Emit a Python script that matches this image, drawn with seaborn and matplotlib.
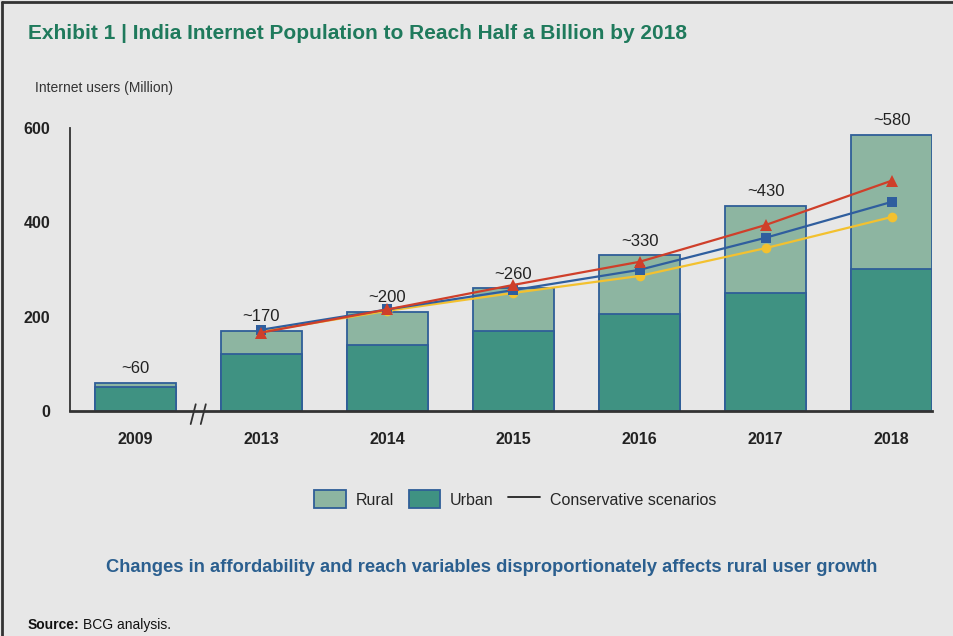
import numpy as np
import pandas as pd
import matplotlib.pyplot as plt
import seaborn as sns
from matplotlib.patches import Patch, Rectangle
from matplotlib.lines import Line2D

# Data read from the exhibit
years = ['2009', '2013', '2014', '2015', '2016', '2017', '2018']
urban = [50, 120, 140, 170, 205, 250, 300]
rural = [10, 50, 70, 90, 125, 185, 285]
bar_labels = ['~60', '~170', '~200', '~260', '~330', '~430', '~580']

scenario_years = ['2013', '2014', '2015', '2016', '2017', '2018']
scenario_high = [166, 215, 267, 316, 394, 488]
scenario_mid = [172, 215, 256, 299, 367, 443]
scenario_low = [168, 212, 250, 286, 345, 411]

bg = '#e7e7e7'
urban_col = '#3f9282'
rural_col = '#8db5a1'
edge_col = '#2f5e98'

sns.set_theme(style='white')
plt.rcParams['font.family'] = ['Liberation Sans', 'DejaVu Sans']

df = pd.DataFrame({'year': years, 'urban': urban, 'rural': rural})
df['total'] = df['urban'] + df['rural']

fig = plt.figure(figsize=(9.54, 6.36), dpi=100, facecolor=bg)
ax = fig.add_axes([0.073, 0.354, 0.904, 0.445], facecolor=bg)

sns.barplot(data=df, x='year', y='total', color=rural_col, saturation=1,
            width=0.64, edgecolor=edge_col, linewidth=1.3, ax=ax)
sns.barplot(data=df, x='year', y='urban', color=urban_col, saturation=1,
            width=0.64, edgecolor=edge_col, linewidth=1.3, ax=ax)

# scenario lines
pos = [years.index(y) for y in scenario_years]
sc = pd.DataFrame({'pos': pos, 'high': scenario_high, 'mid': scenario_mid, 'low': scenario_low})
sns.lineplot(data=sc, x='pos', y='low', color='#f3c12f', marker='o', markersize=7,
             markeredgewidth=0, linewidth=1.6, ax=ax)
sns.lineplot(data=sc, x='pos', y='mid', color='#2f5e9e', marker='s', markersize=7,
             markeredgewidth=0, linewidth=1.6, ax=ax)
sns.lineplot(data=sc, x='pos', y='high', color='#cf3f2a', marker='^', markersize=9,
             markeredgewidth=0, linewidth=1.6, ax=ax)

for i, lab in enumerate(bar_labels):
    ax.text(i, df['total'][i] + 14, lab, ha='center', va='bottom', fontsize=12,
            color='#222222', clip_on=False)

ax.set_xlim(-0.52, 6.32)
ax.set_ylim(0, 600)
ax.set_yticks([0, 200, 400, 600])
ax.set_xlabel('')
ax.set_ylabel('')
ax.tick_params(axis='both', length=0, labelsize=11.5, colors='#222222')
ax.tick_params(axis='x', pad=15)
ax.tick_params(axis='y', pad=14)
for lab in ax.get_xticklabels() + ax.get_yticklabels():
    lab.set_fontweight('bold')
sns.despine(ax=ax, top=True, right=True)
ax.spines['left'].set_color('#333333')
ax.spines['bottom'].set_color('#333333')
ax.spines['left'].set_linewidth(1.3)
ax.spines['bottom'].set_linewidth(2)

# axis break marks between 2009 and 2013
for dx in (-0.04, 0.04):
    ax.plot([0.48 + dx, 0.52 + dx], [-28, 14], color='#333333', lw=1.3, clip_on=False)

# legend
handles = [Patch(facecolor=rural_col, edgecolor=edge_col, linewidth=1.3, label='Rural'),
           Patch(facecolor=urban_col, edgecolor=edge_col, linewidth=1.3, label='Urban'),
           Line2D([0], [0], color='#222222', lw=1.3, label='Conservative scenarios')]
fig.legend(handles=handles, loc='center', bbox_to_anchor=(0.54, 0.215), ncol=3,
           frameon=False, fontsize=11.5, handlelength=2.0, handleheight=1.4,
           columnspacing=0.9, handletextpad=0.6)

fig.text(0.029, 0.947, 'Exhibit 1 | India Internet Population to Reach Half a Billion by 2018',
         fontsize=15, fontweight='bold', color='#1f7a5c', va='center')
fig.text(0.037, 0.861, 'Internet users (Million)', fontsize=10, color='#333333', va='center')
fig.text(0.515, 0.107, 'Changes in affordability and reach variables disproportionately affects rural user growth',
         fontsize=13.2, fontweight='bold', color='#2b5f8f', ha='center', va='center')
fig.text(0.029, 0.018, 'Source:', fontsize=10, fontweight='bold', color='#111111', va='center')
fig.text(0.087, 0.018, 'BCG analysis.', fontsize=10, color='#111111', va='center')

# frame around the exhibit (top and left edges)
fig.add_artist(Line2D([0.002, 0.002], [0, 0.997], transform=fig.transFigure,
                      color='#333333', linewidth=2))
fig.add_artist(Line2D([0.002, 1.0], [0.997, 0.997], transform=fig.transFigure,
                      color='#333333', linewidth=2))

fig.savefig('out.png', dpi=100, facecolor=bg)
